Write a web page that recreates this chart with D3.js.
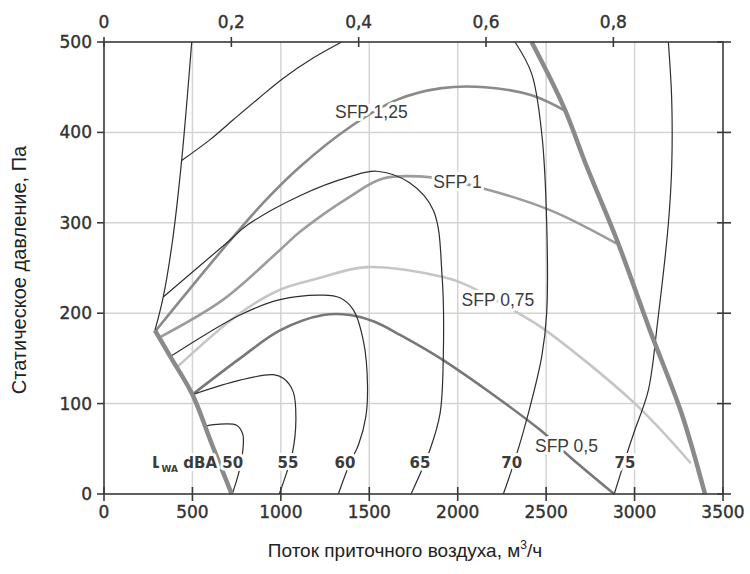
<!DOCTYPE html>
<html>
<head>
<meta charset="utf-8">
<script src="https://cdn.jsdelivr.net/npm/d3@7"></script>
<style>
  body { margin: 0; background: #fff; }
  svg { display: block; }
</style>
</head>
<body>
<svg id="chart"></svg>
<script>
// ticks
const flowTicks = [0, 500, 1000, 1500, 2000, 2500, 3000, 3500];
const pressTicks = [0, 100, 200, 300, 400, 500];
const topTicks = [0, 0.2, 0.4, 0.6, 0.8];

// boundaries (flow m3/h, pressure Pa)
const rightLimit = [[2418,500],[2600,428],[2730,362],[2900,281],[3087,181],[3266,89],[3398,0]];
const leftLimit = [[288,181],[375,152],[500,110],[610,55],[722,0]];
const minFlow = [[288,181],[335,218],[388,281],[439,369],[496,500]];

// fan curves, labelled by sound level
const fan50 = [[570,75],[637,77],[750,76],[785,66],[788,56],[772,32],[750,15],[725,0]];
const fan55 = [[500,110],[769,126],[957,132],[1014,128],[1070,113],[1085,82],[1065,45],[1030,22],[991,0]];
const fan60 = [[375,152],[769,198],[995,215],[1240,220],[1334,217],[1409,204],[1468,168],[1490,120],[1480,85],[1440,55],[1390,34],[1325,0]];
const fan65 = [[335,218],[713,281],[807,297],[1108,330],[1391,351],[1542,357],[1730,344],[1862,314],[1912,240],[1918,148],[1900,89],[1843,49],[1736,0]];
const fan70a = [[439,369],[600,392],[731,414],[870,437],[1014,460],[1180,482],[1344,500]];
const fan70b = [[2324,500],[2418,465],[2475,399],[2503,301],[2503,200],[2475,152],[2399,89],[2324,38],[2258,0]];
const fan75 = [[3191,500],[3210,436],[3210,362],[3191,299],[3130,190],[3078,115],[3002,71],[2964,49],[2885,0]];

// SFP lines
const sfp050 = [[500,110],[769,150],[995,181],[1240,198],[1391,198],[1523,191],[1674,176],[1918,148],[2465,71],[2635,41],[2885,0]];
const sfp075 = [[411,140],[769,200],[995,226],[1203,238],[1485,251],[1918,240],[2051,231],[2343,200],[2484,183],[3002,100],[3318,34]];
const sfp100 = [[312,173],[674,215],[995,270],[1108,290],[1391,329],[1579,349],[1862,350],[2145,338],[2522,314],[2899,277]];
const sfp125 = [[290,180],[448,218],[694,276],[900,322],[1108,362],[1391,406],[1655,436],[1909,449],[2154,450],[2418,441],[2616,423]];

const dbLabels = [["55",1040],["60",1363],["65",1787],["70",2305],["75",2946]];
const sfpLabels = [["SFP 1,25",1306,416],["SFP 1",1862,338],["SFP 0,75",2022,208],["SFP 0,5",2437,47]];

const W = 750, H = 574;
const svg = d3.select("#chart").attr("width", W).attr("height", H);

const x = d3.scaleLinear().domain([0, 3500]).range([104, 723]);
const y = d3.scaleLinear().domain([0, 500]).range([494, 42]);
const xTop = d3.scaleLinear().domain([0, 3500 / 3600]).range([104, 723]);

// grid
svg.append("g").selectAll("line")
  .data(flowTicks.slice(1, -1))
  .enter().append("line")
  .attr("x1", d => x(d)).attr("x2", d => x(d))
  .attr("y1", y(0)).attr("y2", y(500))
  .attr("stroke", "#d4d4d4").attr("stroke-width", 1.5);
svg.append("g").selectAll("line")
  .data(pressTicks.slice(1, -1))
  .enter().append("line")
  .attr("x1", x(0)).attr("x2", x(3500))
  .attr("y1", d => y(d)).attr("y2", d => y(d))
  .attr("stroke", "#d4d4d4").attr("stroke-width", 1.5);

const line = d3.line().x(d => x(d[0])).y(d => y(d[1])).curve(d3.curveCatmullRom.alpha(0.5));

const plot = svg.append("g");
function draw(pts, color, width) {
  plot.append("path")
    .attr("d", line(pts))
    .attr("fill", "none")
    .attr("stroke", color)
    .attr("stroke-width", width)
    .attr("stroke-linejoin", "round");
}

draw(sfp075, "#c6c6c6", 2.6);
draw(sfp100, "#9c9c9c", 2.6);
draw(sfp125, "#8a8a8a", 2.6);
draw(sfp050, "#787878", 2.6);

[fan50, fan55, fan60, fan65, fan70a, fan70b, fan75, minFlow].forEach(c => draw(c, "#2e2e2e", 1.2));

draw(rightLimit, "#8a8a8a", 4.5);
draw(leftLimit, "#8a8a8a", 4.5);

// axes frame
const ax = svg.append("g").attr("stroke", "#3a3a3a").attr("stroke-width", 1.6);
ax.append("rect")
  .attr("x", x(0)).attr("y", y(500))
  .attr("width", x(3500) - x(0)).attr("height", y(0) - y(500))
  .attr("fill", "none");

ax.selectAll(".tb").data(flowTicks).enter().append("line")
  .attr("x1", d => x(d)).attr("x2", d => x(d))
  .attr("y1", y(0) - 7).attr("y2", y(0) + 7);
ax.selectAll(".tt").data(topTicks).enter().append("line")
  .attr("x1", d => xTop(d)).attr("x2", d => xTop(d))
  .attr("y1", y(500) - 5).attr("y2", y(500) + 5);
ax.selectAll(".tl").data(pressTicks).enter().append("line")
  .attr("x1", x(0) - 7).attr("x2", x(0))
  .attr("y1", d => y(d)).attr("y2", d => y(d));
ax.selectAll(".tr").data(pressTicks).enter().append("line")
  .attr("x1", x(3500) - 6).attr("x2", x(3500) + 8)
  .attr("y1", d => y(d)).attr("y2", d => y(d));

// tick labels
const tick = svg.append("g")
  .style("font-family", "'DejaVu Sans', sans-serif")
  .style("font-size", "17px")
  .attr("fill", "#333")
  .attr("stroke", "#333")
  .attr("stroke-width", 0.4);
tick.selectAll(".lb").data(flowTicks).enter().append("text")
  .attr("x", d => x(d)).attr("y", 518)
  .attr("text-anchor", "middle")
  .text(d => d);
tick.selectAll(".lt").data(topTicks).enter().append("text")
  .attr("x", d => xTop(d)).attr("y", 28)
  .attr("text-anchor", "middle")
  .text(d => String(d).replace(".", ","));
tick.selectAll(".ll").data(pressTicks).enter().append("text")
  .attr("x", 92).attr("y", d => y(d) + 6)
  .attr("text-anchor", "end")
  .text(d => d);

// curve labels
const halo = sel => sel
  .attr("stroke", "#fff").attr("stroke-width", 6)
  .attr("stroke-linejoin", "round")
  .style("paint-order", "stroke");

const dbg = svg.append("g")
  .style("font-family", "'DejaVu Sans', sans-serif")
  .style("font-size", "15px")
  .style("font-weight", "bold")
  .attr("fill", "#3c3c3c");
dbg.selectAll("text").data(dbLabels).enter().append("text")
  .attr("x", d => x(d[1])).attr("y", 468)
  .attr("text-anchor", "middle")
  .call(halo)
  .text(d => d[0]);

const lwa = dbg.append("text").attr("x", 152).attr("y", 468).call(halo);
lwa.append("tspan").text("L");
lwa.append("tspan").attr("dy", 4).style("font-size", "9px").text("WA");
lwa.append("tspan").attr("dy", -4).text(" dBA 50");

svg.append("g")
  .style("font-family", "'Liberation Sans', Arial, sans-serif")
  .style("font-size", "17.5px")
  .attr("fill", "#3c3c3c")
  .selectAll("text").data(sfpLabels).enter().append("text")
  .attr("x", d => x(d[1])).attr("y", d => y(d[2]))
  .call(halo)
  .text(d => d[0]);

// axis titles
svg.append("text")
  .attr("transform", "translate(26,270) rotate(-90)")
  .attr("text-anchor", "middle")
  .style("font-family", "'Liberation Sans', Arial, sans-serif")
  .style("font-size", "20px")
  .attr("fill", "#222")
  .text("Статическое давление, Па");

const xt = svg.append("text")
  .attr("x", 405).attr("y", 557)
  .attr("text-anchor", "middle")
  .style("font-family", "'Liberation Sans', Arial, sans-serif")
  .style("font-size", "19px")
  .attr("fill", "#222");
xt.append("tspan").text("Поток приточного воздуха, м");
xt.append("tspan").attr("dy", -8).style("font-size", "12px").text("3");
xt.append("tspan").attr("dy", 8).text("/ч");
</script>
</body>
</html>
